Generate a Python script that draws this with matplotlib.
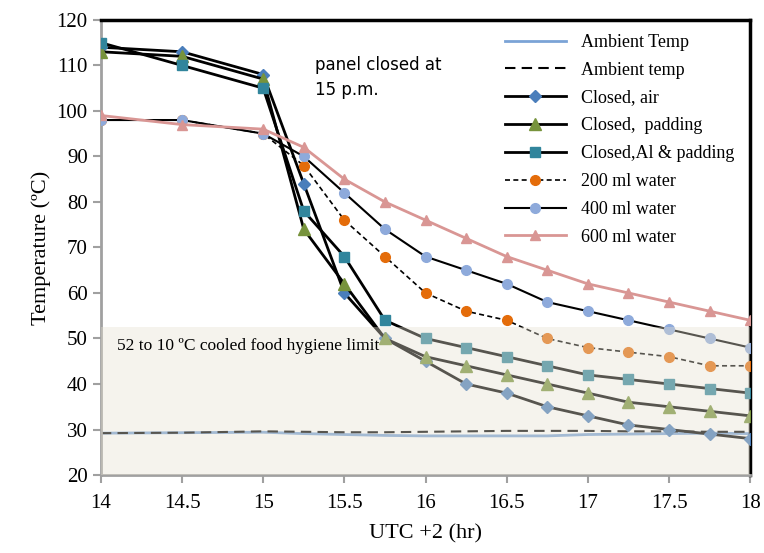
import matplotlib.pyplot as plt

plt.rcParams['font.family'] = ['Liberation Serif', 'DejaVu Serif']

# data
hours = [14, 14.5, 15, 15.25, 15.5, 15.75, 16, 16.25, 16.5, 16.75, 17, 17.25, 17.5, 17.75, 18]
ambient_solid = [29.2, 29.3, 29.4, 29.1, 28.9, 28.7, 28.6, 28.6, 28.6, 28.6, 28.9, 29.0, 29.1, 29.2, 29.1]
ambient_dash = [29.2, 29.3, 29.6, 29.5, 29.4, 29.4, 29.5, 29.6, 29.7, 29.7, 29.7, 29.6, 29.6, 29.5, 29.5]
closed_air = [114, 113, 108, 84, 60, 50, 45, 40, 38, 35, 33, 31, 30, 29, 28]
closed_padding = [113, 112, 107, 74, 62, 50, 46, 44, 42, 40, 38, 36, 35, 34, 33]
closed_al = [115, 110, 105, 78, 68, 54, 50, 48, 46, 44, 42, 41, 40, 39, 38]
water_200 = [98, 98, 95, 88, 76, 68, 60, 56, 54, 50, 48, 47, 46, 44, 44]
water_400 = [98, 98, 95, 90, 82, 74, 68, 65, 62, 58, 56, 54, 52, 50, 48]
water_600 = [99, 97, 96, 92, 85, 80, 76, 72, 68, 65, 62, 60, 58, 56, 54]

BLUE = '#4a7ebb'
GREEN = '#77933c'
TEAL = '#31859c'
ORANGE = '#e46c0a'
LBLUE = '#8eaadb'
PINK = '#d99694'

fig = plt.figure(figsize=(7.64, 5.53), dpi=100)
ax = fig.add_axes([0.132, 0.141, 0.85, 0.823])

ax.plot(hours, ambient_solid, color='#7ba3d6', lw=2, label='Ambient Temp', zorder=2)
ax.plot(hours, ambient_dash, color='black', lw=1.5, ls=(0, (5, 3)), label='Ambient temp', zorder=2)
ax.plot(hours, closed_air, color='black', lw=2, marker='D', ms=6, mfc=BLUE, mec=BLUE,
        label='Closed, air', zorder=3)
ax.plot(hours, closed_padding, color='black', lw=2, marker='^', ms=8, mfc=GREEN, mec=GREEN,
        label='Closed,  padding', zorder=3)
ax.plot(hours, closed_al, color='black', lw=2, marker='s', ms=7, mfc=TEAL, mec=TEAL,
        label='Closed,Al & padding', zorder=3)
ax.plot(hours, water_200, color='black', lw=1.2, ls=(0, (3, 2)), marker='o', ms=7,
        mfc=ORANGE, mec=ORANGE, label='200 ml water', zorder=3)
ax.plot(hours, water_400, color='black', lw=1.5, marker='o', ms=7, mfc=LBLUE, mec=LBLUE,
        label='400 ml water', zorder=3)
ax.plot(hours, water_600, color=PINK, lw=2, marker='^', ms=7, mfc=PINK, mec=PINK,
        label='600 ml water', zorder=3)

# semi-transparent hygiene band drawn over the lines
ax.axhspan(20, 52.5, color='#e6e0d0', alpha=0.38, lw=0, zorder=4)
ax.text(14.1, 48.3, '52 to 10 ºC cooled food hygiene limit', fontsize=12.5, va='center', zorder=5)

ax.text(15.32, 112, 'panel closed at\n15 p.m.', family='DejaVu Sans', fontsize=12,
        va='top', linespacing=1.5)

ax.set_xlim(14, 18)
ax.set_ylim(20, 120)
ax.set_xticks([14, 14.5, 15, 15.5, 16, 16.5, 17, 17.5, 18])
ax.set_xticklabels(['14', '14.5', '15', '15.5', '16', '16.5', '17', '17.5', '18'])
ax.set_yticks(range(20, 121, 10))
ax.tick_params(labelsize=15, color='#a0a0a0', length=6, width=1.5)
ax.tick_params(axis='x', pad=8)
ax.set_xlabel('UTC +2 (hr)', fontsize=16, labelpad=8)
ax.set_ylabel('Temperature (ºC)', fontsize=16)

for side in ['left', 'bottom']:
    ax.spines[side].set_color('#a0a0a0')
    ax.spines[side].set_linewidth(2)
for side in ['top', 'right']:
    ax.spines[side].set_color('black')
    ax.spines[side].set_linewidth(2.5)

leg = ax.legend(loc='upper right', frameon=False, fontsize=13, handlelength=3.4,
                labelspacing=0.6, bbox_to_anchor=(1.0, 1.005))
leg.set_zorder(6)

fig.savefig('out.png', dpi=100)
